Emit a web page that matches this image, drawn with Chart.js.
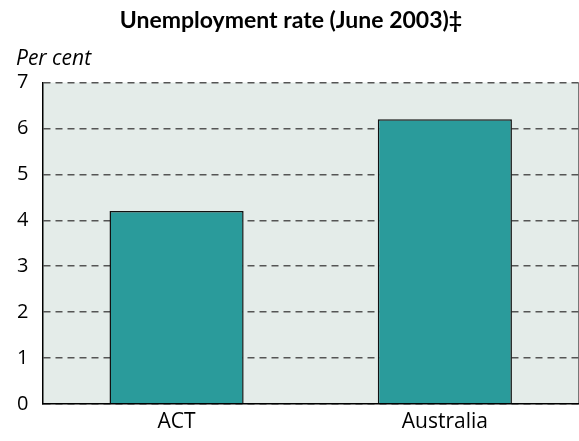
<!DOCTYPE html>
<html>
<head>
<meta charset="utf-8">
<script src="https://cdn.jsdelivr.net/npm/chart.js@4"></script>
<style>
  html, body { margin: 0; padding: 0; background: #fff; }
  canvas { display: block; }
</style>
</head>
<body>
<canvas id="unempChart" width="579" height="441"></canvas>
<script>
const categories = ['ACT', 'Australia'];
const rates = [4.2, 6.2];
const yTicks = [0, 1, 2, 3, 4, 5, 6, 7];
const unitLabel = 'Per cent';

// shaded plot area, thin right edge, and the unit label above the axis
const plotBackground = {
    id: 'plotBackground',
    beforeDraw(chart) {
        const { ctx, chartArea: a } = chart;
        ctx.save();
        ctx.fillStyle = '#e4ece9';
        ctx.fillRect(a.left, a.top, a.right - a.left, a.bottom - a.top);
        ctx.strokeStyle = '#777';
        ctx.lineWidth = 1;
        ctx.beginPath();
        ctx.moveTo(a.right - 0.5, a.top);
        ctx.lineTo(a.right - 0.5, a.bottom);
        ctx.stroke();
        ctx.restore();
    },
    afterDraw(chart) {
        const { ctx } = chart;
        ctx.save();
        ctx.fillStyle = '#000';
        ctx.font = 'italic 21px "Open Sans"';
        ctx.textBaseline = 'alphabetic';
        ctx.fillText(unitLabel, 16, 65);
        ctx.restore();
    }
};

new Chart(document.getElementById('unempChart'), {
    type: 'bar',
    data: {
        labels: categories,
        datasets: [{
            data: rates,
            backgroundColor: '#2a9b9b',
            borderColor: '#111',
            borderWidth: 1.5,
            barPercentage: 1,
            categoryPercentage: 0.5
        }]
    },
    options: {
        responsive: false,
        animation: false,
        layout: { padding: { left: 3, right: 0, top: 0, bottom: 0 } },
        plugins: {
            legend: { display: false },
            tooltip: { enabled: false },
            title: {
                display: true,
                text: 'Unemployment rate (June 2003)‡',
                color: '#000',
                font: { family: 'Lato', size: 23, weight: 'bold' },
                padding: { top: 7, bottom: 48 }
            }
        },
        scales: {
            x: {
                grid: { display: false, drawTicks: false },
                border: { display: true, color: '#000', width: 1.5 },
                ticks: {
                    color: '#000',
                    font: { family: 'Open Sans', size: 21 },
                    padding: 6
                }
            },
            y: {
                min: 0,
                max: 7,
                afterBuildTicks(axis) {
                    axis.ticks = yTicks.map(v => ({ value: v }));
                },
                grid: {
                    color: '#555',
                    lineWidth: 1.5,
                    drawTicks: false
                },
                border: { display: true, color: '#000', width: 1.5, dash: [7, 5] },
                ticks: {
                    color: '#000',
                    font: { family: 'Open Sans', size: 20 },
                    padding: 14
                }
            }
        }
    },
    plugins: [plotBackground]
});
</script>
</body>
</html>
